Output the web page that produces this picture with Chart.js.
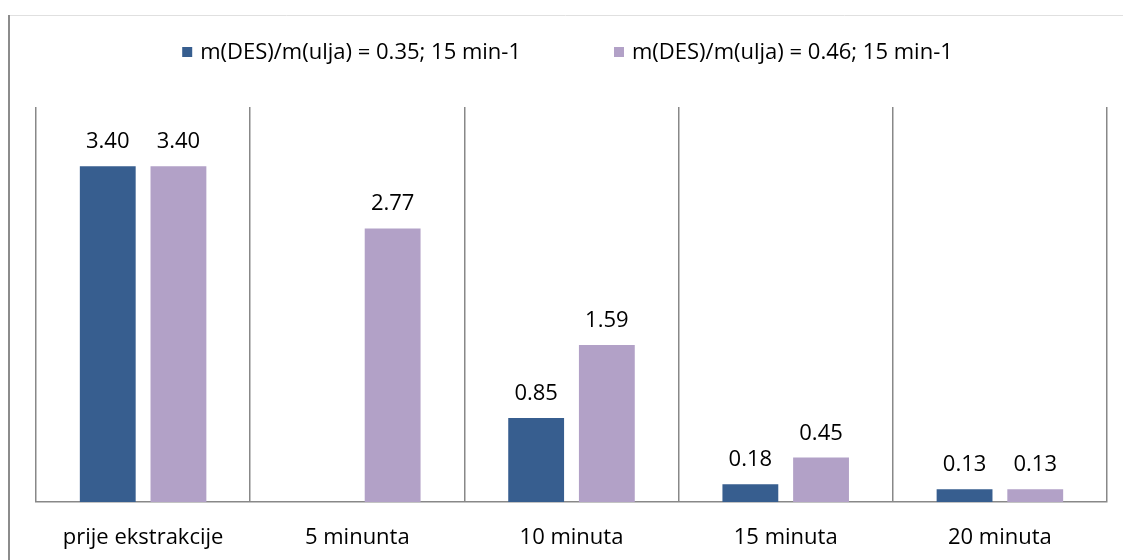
<!DOCTYPE html>
<html>
<head>
<meta charset="utf-8">
<script src="https://cdn.jsdelivr.net/npm/chart.js@4/dist/chart.umd.min.js"></script>
<style>
  html, body { margin: 0; padding: 0; background: #fff; }
  #wrap { position: relative; width: 1123px; height: 560px; }
</style>
</head>
<body>
<div id="wrap"><canvas id="chart"></canvas></div>
<script>
// podaci očitani sa slike
const categories = ['prije ekstrakcije', '5 minunta', '10 minuta', '15 minuta', '20 minuta'];
const seriesNames = ['m(DES)/m(ulja) = 0.35; 15 min-1', 'm(DES)/m(ulja) = 0.46; 15 min-1'];
const series035 = [3.40, null, 0.85, 0.18, 0.13];
const series046 = [3.40, 2.77, 1.59, 0.45, 0.13];

const FONT = '"Open Sans", "DejaVu Sans", sans-serif';
const FONT_SIZE = 22;

// okvir oko grafikona (lijevo i gore)
const framePlugin = {
  id: 'frame',
  beforeDraw(chart) {
    const c = chart.ctx;
    c.save();
    c.strokeStyle = '#e0e0e0';
    c.lineWidth = 1;
    c.beginPath();
    c.moveTo(8, 15.5);
    c.lineTo(chart.width, 15.5);
    c.stroke();
    c.strokeStyle = '#8c8c8c';
    c.lineWidth = 2;
    c.beginPath();
    c.moveTo(9, 15);
    c.lineTo(9, chart.height);
    c.stroke();
    c.restore();
  }
};

// legenda iznad grafikona (crtana ručno zbog razmaka)
const legendPlugin = {
  id: 'customLegend',
  afterDraw(chart) {
    const c = chart.ctx;
    const box = 10, gapBox = 8, gapItem = 93, cy = 52;
    c.save();
    c.font = FONT_SIZE + 'px ' + FONT;
    c.textBaseline = 'middle';
    c.textAlign = 'left';
    const items = chart.data.datasets.map(ds => ({
      text: ds.label,
      color: ds.backgroundColor,
      w: box + gapBox + c.measureText(ds.label).width
    }));
    const total = items.reduce((s, it) => s + it.w, 0) + gapItem * (items.length - 1);
    const ca = chart.chartArea;
    let x = (ca.left + ca.right) / 2 - 4 - total / 2;
    items.forEach(it => {
      c.fillStyle = it.color;
      c.fillRect(x, cy - box / 2, box, box);
      c.fillStyle = '#000';
      c.fillText(it.text, x + box + gapBox, cy + 1);
      x += it.w + gapItem;
    });
    c.restore();
  }
};

// vrijednosti iznad stupaca
const valueLabels = {
  id: 'valueLabels',
  afterDatasetsDraw(chart) {
    const c = chart.ctx;
    c.save();
    c.font = FONT_SIZE + 'px ' + FONT;
    c.fillStyle = '#000';
    c.textAlign = 'center';
    c.textBaseline = 'alphabetic';
    chart.data.datasets.forEach((ds, i) => {
      chart.getDatasetMeta(i).data.forEach((bar, j) => {
        const v = ds.data[j];
        if (v === null || v === undefined) return;
        c.fillText(v.toFixed(2), bar.x, bar.y - 18);
      });
    });
    c.restore();
  }
};

new Chart(document.getElementById('chart'), {
  type: 'bar',
  data: {
    labels: categories,
    datasets: [
      {
        label: seriesNames[0],
        data: series035,
        backgroundColor: '#375e8f',
        borderWidth: 0,
        barPercentage: 0.79,
        categoryPercentage: 0.66
      },
      {
        label: seriesNames[1],
        data: series046,
        backgroundColor: '#b2a1c7',
        borderWidth: 0,
        barPercentage: 0.79,
        categoryPercentage: 0.66
      }
    ]
  },
  options: {
    responsive: true,
    maintainAspectRatio: false,
    animation: false,
    layout: { padding: { left: 36, right: 16, top: 107, bottom: 10 } },
    plugins: {
      legend: { display: false },
      tooltip: { enabled: false }
    },
    scales: {
      x: {
        afterFit: (axis) => { axis.height = 48; },
        grid: {
          offset: true,
          color: '#888888',
          lineWidth: 1.5,
          drawTicks: false
        },
        border: { color: '#888888', width: 1.5 },
        ticks: {
          font: { family: FONT, size: FONT_SIZE },
          color: '#000',
          padding: 23
        }
      },
      y: {
        min: 0,
        max: 4,
        display: false
      }
    }
  },
  plugins: [framePlugin, legendPlugin, valueLabels]
});
</script>
</body>
</html>
